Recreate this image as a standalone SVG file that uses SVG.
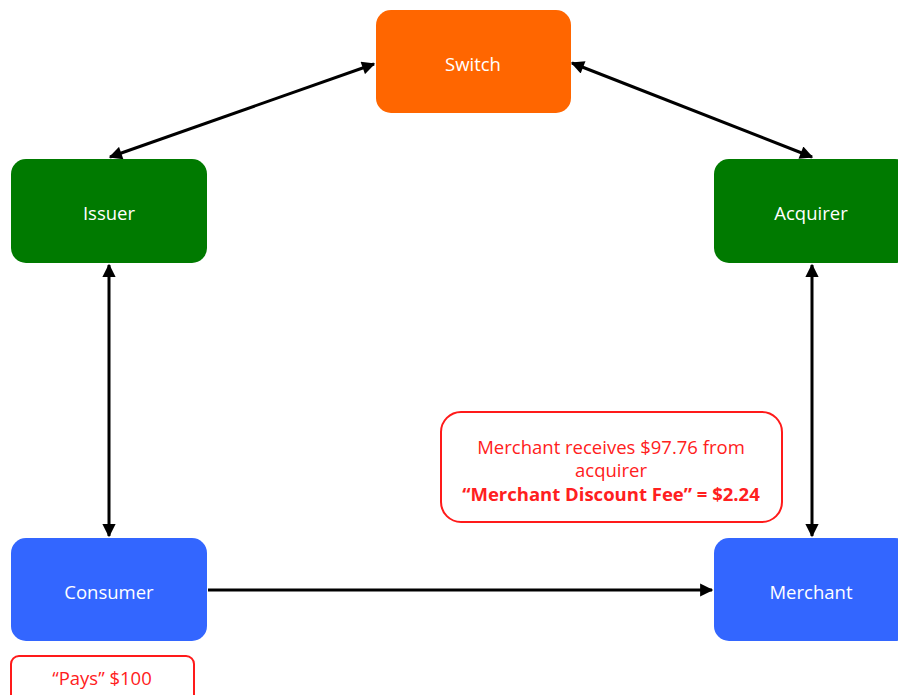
<svg xmlns="http://www.w3.org/2000/svg" width="898" height="695" viewBox="0 0 898 695">
  <style>
    .node text { font-family: "Open Sans", "Liberation Sans", sans-serif; font-size: 18.5px; fill: #ffffff; text-anchor: middle; dominant-baseline: central; }
    .conn { stroke: #000000; stroke-width: 3; fill: none; }
    .note rect { fill: #ffffff; stroke: #ff1a1a; stroke-width: 2; }
    .note text { font-family: "Open Sans", "Liberation Sans", sans-serif; font-size: 18.5px; fill: #ff2020; text-anchor: middle; dominant-baseline: central; }
  </style>
  <defs>
    <marker id="arrow" viewBox="0 0 10 10" refX="9" refY="5" markerWidth="5" markerHeight="4.4" orient="auto-start-reverse" markerUnits="strokeWidth">
      <path d="M0,0 L10,5 L0,10 Z" fill="#000000"/>
    </marker>
  </defs>
  <rect width="898" height="695" fill="#ffffff"/>

  <g id="connectors">
    <line class="conn" x1="110" y1="157" x2="374" y2="64" marker-start="url(#arrow)" marker-end="url(#arrow)"/>
    <line class="conn" x1="572" y1="63" x2="812" y2="157" marker-start="url(#arrow)" marker-end="url(#arrow)"/>
    <line class="conn" x1="109" y1="265" x2="109" y2="536" marker-start="url(#arrow)" marker-end="url(#arrow)"/>
    <line class="conn" x1="812" y1="265" x2="812" y2="536" marker-start="url(#arrow)" marker-end="url(#arrow)"/>
    <line class="conn" x1="208" y1="590" x2="712" y2="590" marker-end="url(#arrow)"/>
  </g>

  <g id="switch" class="node">
    <rect x="376" y="10" width="195" height="103" rx="15" fill="#ff6600"/>
    <text x="473" y="63">Switch</text>
  </g>
  <g id="issuer" class="node">
    <rect x="11" y="159" width="196" height="104" rx="15" fill="#007a00"/>
    <text x="109" y="212">Issuer</text>
  </g>
  <g id="acquirer" class="node">
    <rect x="714" y="159" width="196" height="104" rx="15" fill="#007a00"/>
    <text x="811" y="212">Acquirer</text>
  </g>
  <g id="consumer" class="node">
    <rect x="11" y="538" width="196" height="103" rx="15" fill="#3366ff"/>
    <text x="109" y="591">Consumer</text>
  </g>
  <g id="merchant" class="node">
    <rect x="714" y="538" width="196" height="103" rx="15" fill="#3366ff"/>
    <text x="811" y="591">Merchant</text>
  </g>

  <g id="merchant-note" class="note">
    <rect x="441" y="412" width="341" height="110" rx="20"/>
    <text x="611" y="446">Merchant receives $97.76 from</text>
    <text x="611" y="469">acquirer</text>
    <text x="611" y="493" font-weight="bold" font-size="19px">“Merchant Discount Fee” = $2.24</text>
  </g>
  <g id="pays-note" class="note">
    <rect x="11" y="656" width="183" height="50" rx="8"/>
    <text x="102" y="677">“Pays” $100</text>
  </g>
</svg>
